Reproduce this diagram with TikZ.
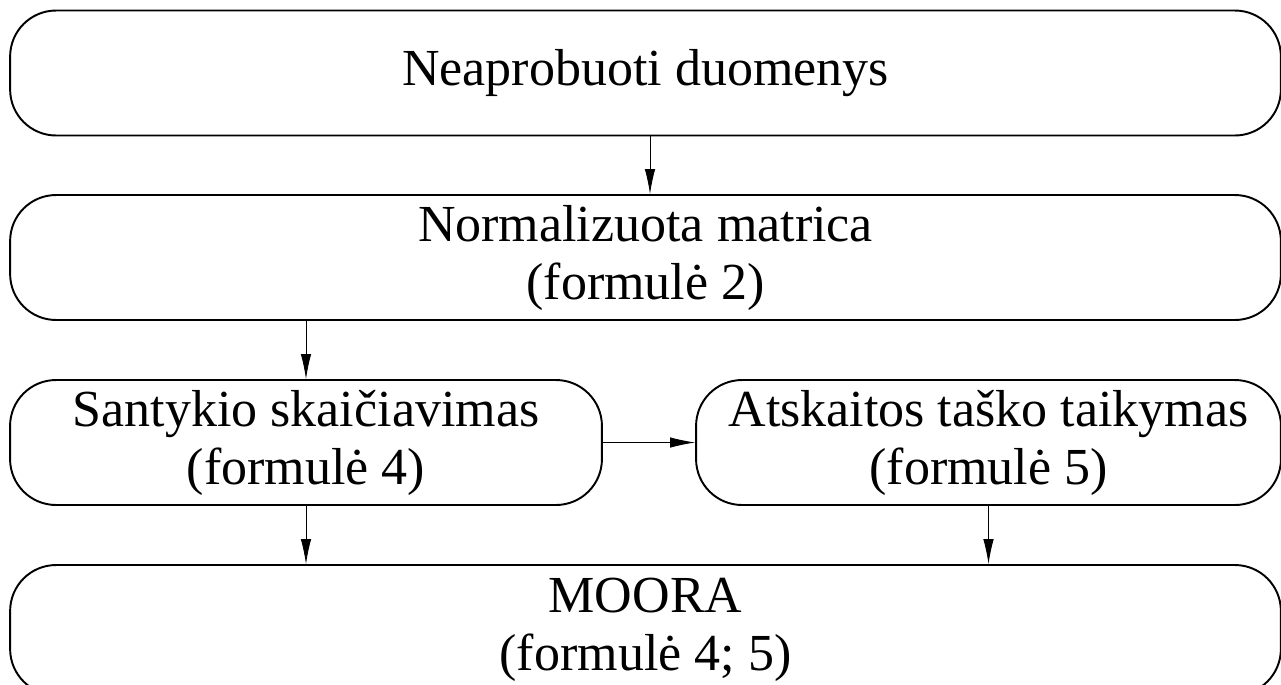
\documentclass[tikz,border=0pt]{standalone}
\usepackage{fontspec}
\setmainfont{Liberation Serif}
\usetikzlibrary{arrows.meta}
\begin{document}
\begin{tikzpicture}[x=0.02cm, y=-0.02cm,
        stage/.style={draw, line width=1.1pt, rounded corners=0.92cm, align=center, inner sep=0pt,
            font=\fontsize{29.6}{33}\selectfont, minimum height=2.5cm},
        flow/.style={-{Latex[length=0.5cm, width=0.21cm]}, line width=0.5pt}]
        \useasboundingbox (0, 0) rectangle (1281, 684);

        % Draw the stages
        \node[stage, minimum width=25.42cm] (raw) at (645.5, 73) {Neaprobuoti duomenys};
        \node[stage, minimum width=25.42cm] (norm) at (645.5, 257.5) {Normalizuota matrica\\(formulė 2)};
        \node[stage, minimum width=11.84cm] (ratio) at (306, 442.5) {Santykio skaičiavimas\\(formulė 4)};
        \node[stage, minimum width=11.7cm] (refpoint) at (988.5, 442.5) {Atskaitos taško taikymas\\(formulė 5)};
        \node[stage, minimum width=25.42cm, minimum height=2.6cm] (moora) at (645.5, 630) {MOORA\\(formulė 4; 5)};

        % Add the arrows
        \draw[flow] ([xshift=0.09cm]raw.south) -- ([xshift=0.09cm]norm.north);
        \draw[flow] (ratio.north |- norm.south) -- (ratio.north);
        \draw[flow] (ratio.east) -- (refpoint.west);
        \draw[flow] (ratio.south) -- (ratio.south |- moora.north);
        \draw[flow] (refpoint.south) -- (refpoint.south |- moora.north);
    \end{tikzpicture}
\end{document}
